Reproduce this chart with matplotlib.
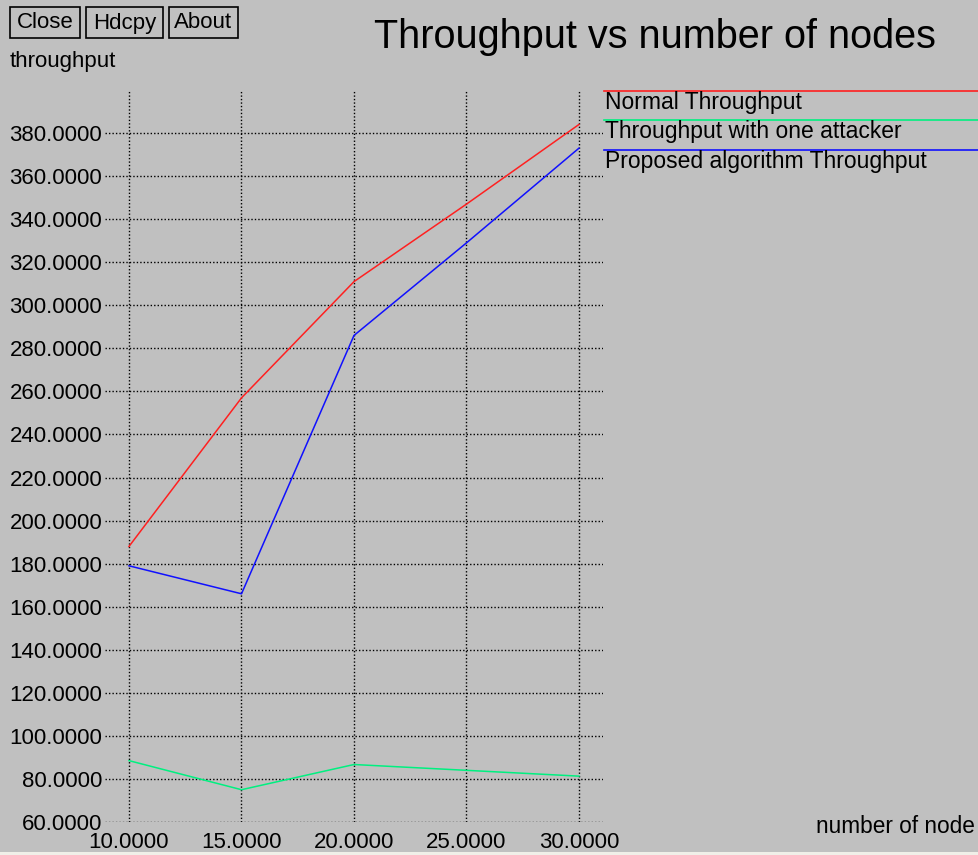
import numpy as np
import matplotlib
matplotlib.use('Agg')
import matplotlib.pyplot as plt
from matplotlib.lines import Line2D
from matplotlib.ticker import FormatStrFormatter

# data
nodes = [10, 15, 20, 25, 30]
normal = [188, 257, 311, 347, 384]
attacker = [88.5, 75, 86.7, 84, 81.3]
proposed = [179, 166, 286, 329, 373]

names = ['Normal Throughput', 'Throughput with one attacker', 'Proposed algorithm Throughput']
colors = ['#ff2020', '#00f080', '#1010ff']

W, H = 979, 855
bg = '#c0c0c0'
fnt = 'Liberation Sans'

fig = plt.figure(figsize=(W / 100, H / 100), dpi=100, facecolor=bg)

def fx(px):
    return px / W

def fy(py):
    return 1 - py / H

ax = fig.add_axes([fx(105), fy(822), fx(603) - fx(105), fy(90) - fy(822)])
ax.set_facecolor(bg)
for s in ax.spines.values():
    s.set_visible(False)

for ys, c in zip([normal, attacker, proposed], colors):
    ax.plot(nodes, ys, color=c, lw=1.1)

ax.set_xlim(10 - 24 / 22.5, 30 + 24 / 22.5)
ax.set_ylim(60, 400)
ax.set_xticks(nodes)
ax.set_yticks(np.arange(60, 381, 20))
ax.xaxis.set_major_formatter(FormatStrFormatter('%.4f'))
ax.yaxis.set_major_formatter(FormatStrFormatter('%.4f'))
ax.tick_params(length=0, labelsize=16)
ax.tick_params(axis='x', pad=7)
ax.tick_params(axis='y', pad=2)
for lab in ax.get_xticklabels() + ax.get_yticklabels():
    lab.set_fontfamily(fnt)

# dotted grid, vertical lines start at the top of the plot
for x in nodes:
    ax.plot([x, x], [60, 400], color='black', lw=1, ls=(0, (1, 1.5)), zorder=0)
for y in np.arange(60, 381, 20):
    ax.plot(ax.get_xlim(), [y, y], color='black', lw=1, ls=(0, (1, 1.5)), zorder=0)

# buttons
for label, x0, x1 in [('Close', 10, 80), ('Hdcpy', 86, 163), ('About', 169, 238)]:
    fig.patches.append(plt.Rectangle((fx(x0), fy(38)), fx(x1) - fx(x0), fy(7) - fy(38),
                                     transform=fig.transFigure, fill=False,
                                     edgecolor='black', lw=1.2))
    fig.text(fx((x0 + x1) / 2), fy(23), label, ha='center', va='center',
             fontsize=16, family=fnt)

fig.text(fx(374), fy(37), 'Throughput vs number of nodes', ha='left', va='center',
         fontsize=28.5, family=fnt)
fig.text(fx(10), fy(61), 'throughput', ha='left', va='center', fontsize=16, family=fnt)
fig.text(fx(975), fy(826), 'number of node', ha='right', va='center', fontsize=16.3, family=fnt)

# legend, xgraph style: a line above each name
for i, (n, c) in enumerate(zip(names, colors)):
    ly = 91 + i * 29.5
    fig.lines.append(Line2D([fx(604), 1], [fy(ly), fy(ly)], color=c, lw=1.2,
                            transform=fig.transFigure))
    fig.text(fx(605), fy(ly + 11), n, ha='left', va='center', fontsize=16.5, family=fnt)

# thin light strip at the very bottom
fig.patches.append(plt.Rectangle((0, 0), 1, fy(852), transform=fig.transFigure,
                                 facecolor='#f0efe8', edgecolor='none'))

fig.savefig('out.png', dpi=100, facecolor=bg)
